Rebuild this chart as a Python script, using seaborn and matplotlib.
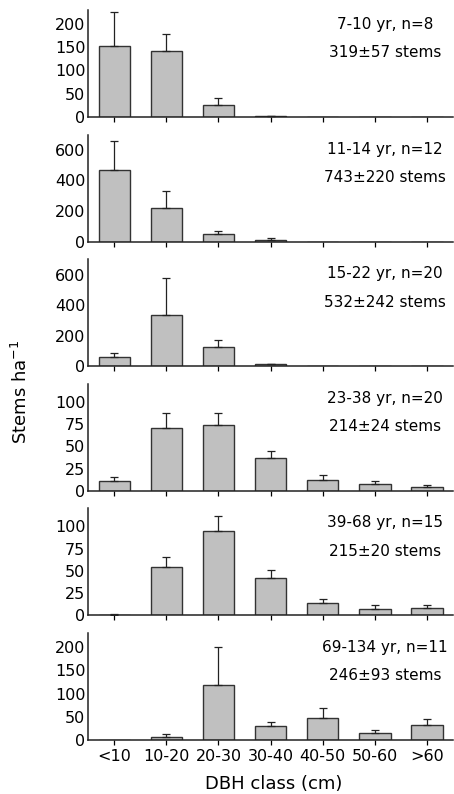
import numpy as np
import pandas as pd
import seaborn as sns
import matplotlib
matplotlib.use("Agg")
import matplotlib.pyplot as plt

classes = ["<10", "10-20", "20-30", "30-40", "40-50", "50-60", ">60"]

ages = ["7-10 yr, n=8", "11-14 yr, n=12", "15-22 yr, n=20",
        "23-38 yr, n=20", "39-68 yr, n=15", "69-134 yr, n=11"]
totals = ["319\u00b157 stems", "743\u00b1220 stems", "532\u00b1242 stems",
          "214\u00b124 stems", "215\u00b120 stems", "246\u00b193 stems"]

# mean stems per ha in each DBH class
mean_7_10 = [152, 141, 25, 1, 0, 0, 0]
mean_11_14 = [468, 221, 47, 12, 0, 0, 0]
mean_15_22 = [57, 338, 123, 12, 1, 1, 0]
mean_23_38 = [11, 70, 73.5, 37, 12.5, 7.5, 4.5]
mean_39_68 = [1, 54.5, 94.5, 41.5, 13.5, 7.7, 8.4]
mean_69_134 = [0, 7, 119, 29.5, 47.5, 15, 31.7]

# upper error (SE)
se_7_10 = [73, 38, 15, 1.5, 0, 0, 0]
se_11_14 = [192, 112, 22, 14, 0, 0, 0]
se_15_22 = [26, 240, 46, 3, 0, 0, 0]
se_23_38 = [4, 17, 13.5, 8, 5, 4, 2.5]
se_39_68 = [0.5, 11.5, 17, 9, 4.5, 3.5, 3.6]
se_69_134 = [0, 5, 80, 10, 21.5, 6.6, 13]

means = [mean_7_10, mean_11_14, mean_15_22, mean_23_38, mean_39_68, mean_69_134]
ses = [se_7_10, se_11_14, se_15_22, se_23_38, se_39_68, se_69_134]
ylims = [230, 700, 700, 120, 120, 230]
yticks = [[0, 50, 100, 150, 200], [0, 200, 400, 600], [0, 200, 400, 600],
          [0, 25, 50, 75, 100], [0, 25, 50, 75, 100], [0, 50, 100, 150, 200]]

sns.set_style("white")
plt.rcParams["font.family"] = ["DejaVu Sans"]
plt.rcParams["text.color"] = "black"
plt.rcParams["axes.labelcolor"] = "black"

fig, axes = plt.subplots(6, 1, figsize=(4.54, 7.94), dpi=100)
fig.subplots_adjust(left=0.194, right=0.998, top=0.9874, bottom=0.068, hspace=0.165)

for i, ax in enumerate(axes):
    df = pd.DataFrame({"dbh": classes, "stems": means[i]})
    sns.barplot(data=df, x="dbh", y="stems", ax=ax, color="#c0c0c0",
                saturation=1, edgecolor="#333333", linewidth=1.0, width=0.6)
    m = np.array(means[i], dtype=float)
    e = np.array(ses[i], dtype=float)
    keep = e > 0
    xs = np.arange(len(classes))[keep]
    ax.errorbar(xs, m[keep], yerr=[np.zeros(keep.sum()), e[keep]], fmt="none",
                ecolor="#222222", elinewidth=0.9, capsize=3.2, capthick=0.9)
    ax.set_xlim(-0.5, 6.5)
    ax.set_ylim(0, ylims[i])
    ax.set_yticks(yticks[i])
    ax.set_xlabel("")
    ax.set_ylabel("")
    for s in ["top", "right"]:
        ax.spines[s].set_visible(False)
    for s in ["left", "bottom"]:
        ax.spines[s].set_color("#222222")
        ax.spines[s].set_linewidth(1.1)
    ax.tick_params(axis="y", length=0, pad=2, labelsize=11.5, colors="black")
    ax.tick_params(axis="x", length=3.5, width=0.9, direction="out", pad=3,
                   labelsize=11.5, colors="black", bottom=True)
    if i < 5:
        ax.set_xticklabels([])
    ax.text(0.814, 0.865, ages[i], transform=ax.transAxes, ha="center",
            va="center", fontsize=11, color="black")
    ax.text(0.814, 0.60, totals[i], transform=ax.transAxes, ha="center",
            va="center", fontsize=11, color="black")

fig.text(0.047, 1 - 392 / 794, "Stems ha$^{-1}$", rotation=90, ha="center",
         va="center", fontsize=13, color="black")
fig.text(0.603, 1 - 784 / 794, "DBH class (cm)", ha="center", va="center",
         fontsize=13, color="black")

fig.savefig("out.png", dpi=100)
